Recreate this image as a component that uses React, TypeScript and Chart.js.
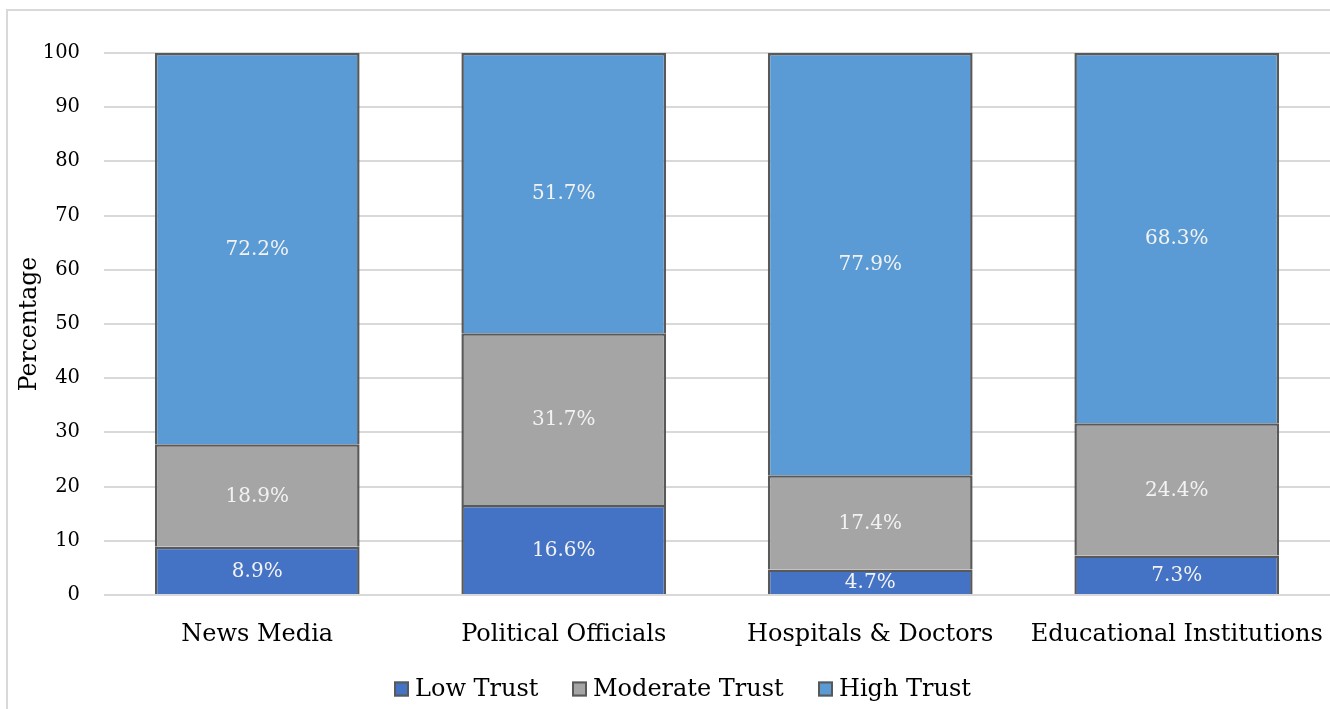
import React, { useEffect, useRef } from "react";
import { Chart, registerables } from "chart.js";

Chart.register(...registerables);

const categories = ["News Media", "Political Officials", "Hospitals & Doctors", "Educational Institutions"];
const lowTrust = [8.9, 16.6, 4.7, 7.3];
const moderateTrust = [18.9, 31.7, 17.4, 24.4];
const highTrust = [72.2, 51.7, 77.9, 68.3];
const seriesNames = ["Low Trust", "Moderate Trust", "High Trust"];
const seriesColors = ["#4472C4", "#A5A5A5", "#5B9BD5"];
const yTicks = [0, 10, 20, 30, 40, 50, 60, 70, 80, 90, 100];

const FONT = "'DejaVu Serif', serif";

const dataLabelPlugin = {
  id: "dataLabels",
  afterDatasetsDraw(chart: any) {
    const ctx = chart.ctx;
    ctx.save();
    ctx.font = `20px ${FONT}`;
    ctx.fillStyle = "#F2F2F2";
    ctx.textAlign = "center";
    ctx.textBaseline = "middle";
    chart.data.datasets.forEach((ds: any, di: number) => {
      const meta = chart.getDatasetMeta(di);
      meta.data.forEach((bar: any, i: number) => {
        const v = ds.data[i];
        const y = (bar.y + bar.base) / 2;
        ctx.fillText(v.toFixed(1) + "%", bar.x, y + 1);
      });
    });
    ctx.restore();
  },
};

const legendPlugin = {
  id: "customLegend",
  afterDraw(chart: any) {
    const ctx = chart.ctx;
    ctx.save();
    ctx.font = `24px ${FONT}`;
    const box = 15;
    const gapBoxText = 6;
    const gapItems = 34;
    const widths = seriesNames.map((n) => box + gapBoxText + ctx.measureText(n).width);
    const total = widths.reduce((a, b) => a + b, 0) + gapItems * (seriesNames.length - 1);
    const cx = 683;
    const cy = 689;
    let x = Math.round(cx - total / 2);
    seriesNames.forEach((n, i) => {
      ctx.fillStyle = seriesColors[i];
      ctx.fillRect(x, cy - box / 2, box, box);
      ctx.strokeStyle = "#595959";
      ctx.lineWidth = 2;
      ctx.strokeRect(x + 1, cy - box / 2 + 1, box - 2, box - 2);
      ctx.fillStyle = "#000";
      ctx.textAlign = "left";
      ctx.textBaseline = "middle";
      ctx.fillText(n, x + box + gapBoxText, cy + 1);
      x += Math.round(widths[i] + gapItems);
    });
    ctx.restore();
  },
};

export default function App() {
  const ref = useRef<HTMLCanvasElement>(null);
  useEffect(() => {
    if (!ref.current) return;
    const chart = new Chart(ref.current, {
      type: "bar",
      data: {
        labels: categories,
        datasets: [lowTrust, moderateTrust, highTrust].map((d, i) => ({
          label: seriesNames[i],
          data: d,
          backgroundColor: seriesColors[i],
          borderColor: "#595959",
          borderWidth: 2.5,
          inflateAmount: 0,
          barPercentage: 0.668,
          categoryPercentage: 1,
        })),
      },
      options: {
        responsive: false,
        animation: false,
        layout: { padding: { left: 0, right: 0, top: 53, bottom: 52 } },
        plugins: {
          tooltip: { enabled: false },
          legend: { display: false },
        },
        scales: {
          x: {
            stacked: true,
            grid: { display: false },
            border: { display: false },
            ticks: { font: { family: FONT, size: 24 }, color: "#000", padding: 17, maxRotation: 0 },
            afterFit: (s: any) => { s.height = 62; s.paddingLeft = 0; s.paddingRight = 0; },
          },
          y: {
            stacked: true,
            min: 0,
            max: 100,
            afterBuildTicks: (s: any) => { s.ticks = yTicks.map((v) => ({ value: v })); },
            grid: { color: "#D9D9D9", lineWidth: 2, drawTicks: false },
            border: { display: false },
            ticks: { font: { family: FONT, size: 19.5 }, color: "#000", padding: 24 },
            title: { display: true, text: "Percentage", font: { family: FONT, size: 23.5 }, color: "#000", padding: { top: 16, bottom: 0 } },
            afterFit: (s: any) => { s.width = 104; },
          },
        },
      },
      plugins: [dataLabelPlugin, legendPlugin],
    });
    return () => chart.destroy();
  }, []);
  return (
    <div style={{ position: "fixed", left: 0, top: 0, width: 1330, height: 709, overflow: "hidden", background: "#fff" }}>
      <div style={{ position: "absolute", left: 6, top: 9, width: 1400, height: 800, border: "2px solid #D9D9D9" }} />
      <canvas ref={ref} width={1330} height={709} style={{ position: "absolute", left: 0, top: 0 }} />
    </div>
  );
}
